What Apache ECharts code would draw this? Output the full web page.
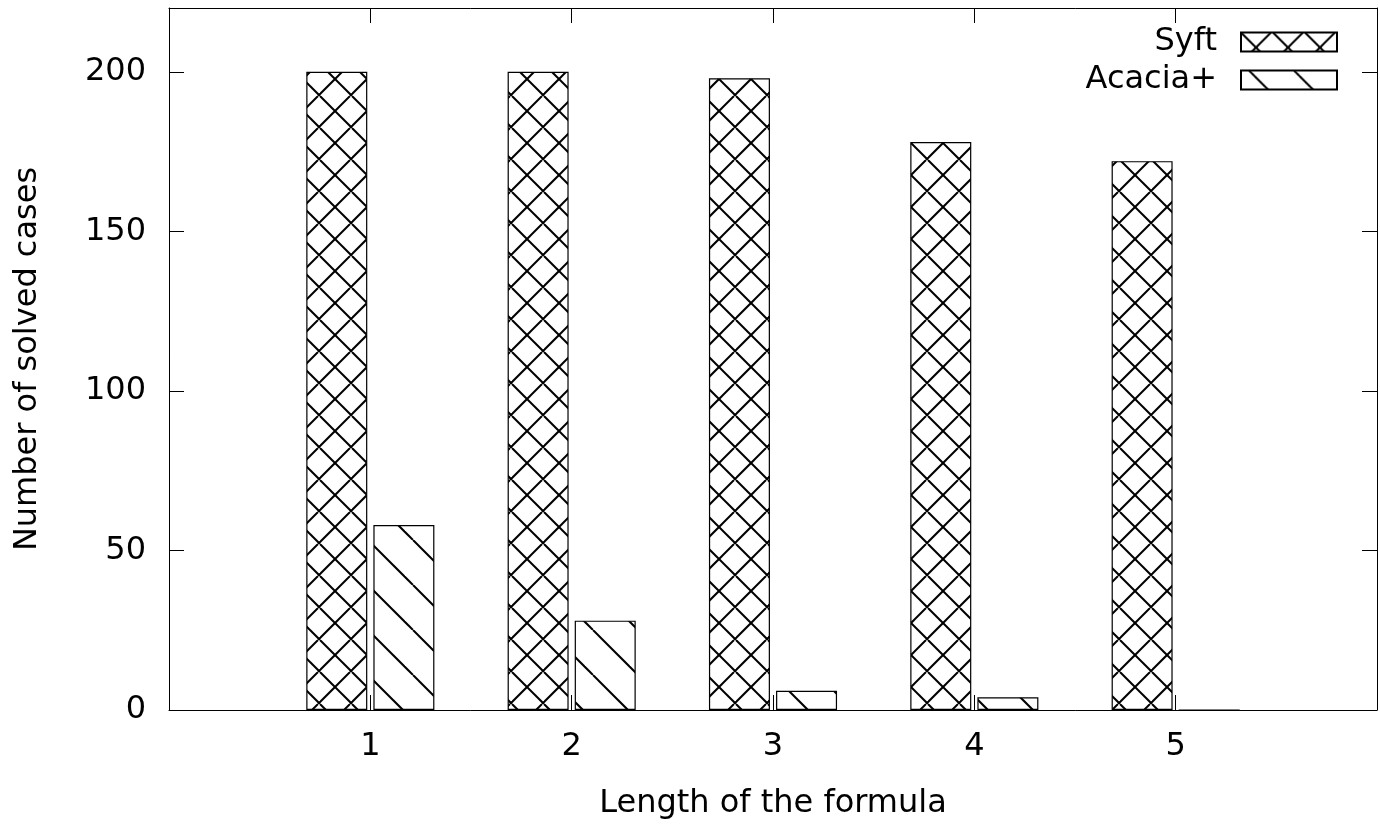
<!DOCTYPE html>
<html>
<head>
<meta charset="utf-8">
<script src="https://cdn.jsdelivr.net/npm/echarts@6/dist/echarts.min.js"></script>
<style>
html,body{margin:0;padding:0;background:#fff;}
#chart{width:1380px;height:825px;}
</style>
</head>
<body>
<div id="chart"></div>
<script>
const categories = [1, 2, 3, 4, 5];
const syft = [200, 200, 198, 178, 172];
const acacia = [58, 28, 6, 4, 0];
const yTicks = [0, 50, 100, 150, 200];
const xTickLabels = ['1', '2', '3', '4', '5'];
const seriesNames = ['Syft', 'Acacia+'];

function makeCross() {
  const P = 32;
  const c = document.createElement('canvas');
  c.width = P; c.height = P;
  const g = c.getContext('2d');
  g.fillStyle = '#fff'; g.fillRect(0, 0, P, P);
  g.strokeStyle = '#000'; g.lineWidth = 2;
  for (let k = -2; k <= 2; k++) {
    g.beginPath(); g.moveTo(k * P, 0); g.lineTo(k * P + P, P); g.stroke();
    g.beginPath(); g.moveTo(30 + k * P, 0); g.lineTo(30 + k * P - P, P); g.stroke();
  }
  return c;
}
function makeDiag() {
  const P = 45;
  const c = document.createElement('canvas');
  c.width = P; c.height = P;
  const g = c.getContext('2d');
  g.fillStyle = '#fff'; g.fillRect(0, 0, P, P);
  g.strokeStyle = '#000'; g.lineWidth = 2;
  for (let k = -2; k <= 2; k++) {
    g.beginPath(); g.moveTo(8 + k * P, 0); g.lineTo(8 + k * P + P, P); g.stroke();
  }
  return c;
}

const font = 'DejaVu Sans';
const fs = 32;
const chart = echarts.init(document.getElementById('chart'), null, {renderer: 'canvas'});

const xLabelFmt = v => { const i = categories.indexOf(v); return i >= 0 ? xTickLabels[i] : ''; };
const yLabelFmt = v => yTicks.indexOf(v) >= 0 ? String(v) : '';

const legendCommon = {
  orient: 'vertical', align: 'right', right: 37, itemWidth: 96, itemHeight: 19, icon: 'rect',
  textStyle: {fontFamily: font, fontSize: fs, color: '#000', padding: [0, 19, 0, 0]},
  selectedMode: false
};

const tickStyle = {show: true, inside: true, length: 15, lineStyle: {color: '#000', width: 1}};
const lineStyle = {show: true, onZero: false, lineStyle: {color: '#000', width: 1}};

chart.setOption({
  animation: false,
  backgroundColor: '#fff',
  grid: {left: 169, right: 2, top: 8, bottom: 113},
  legend: [
    Object.assign({}, legendCommon, {top: 21, data: [seriesNames[0]]}),
    Object.assign({}, legendCommon, {top: 59, data: [seriesNames[1]]})
  ],
  xAxis: [{
    type: 'value', min: 0, max: 6, interval: 1,
    name: 'Length of the formula', nameLocation: 'middle', nameGap: 78,
    nameTextStyle: {fontFamily: font, fontSize: fs, color: '#000'},
    axisLine: lineStyle, axisTick: tickStyle,
    axisLabel: {fontFamily: font, fontSize: fs, color: '#000', margin: 21, formatter: xLabelFmt},
    splitLine: {show: false}
  }, {
    type: 'value', min: 0, max: 6, interval: 1, position: 'top',
    axisLine: lineStyle, axisTick: tickStyle,
    axisLabel: {show: false}, splitLine: {show: false}
  }],
  yAxis: [{
    type: 'value', min: 0, max: 220, interval: 50,
    name: 'Number of solved cases', nameLocation: 'middle', nameGap: 125,
    nameTextStyle: {fontFamily: font, fontSize: fs, color: '#000'},
    axisLine: lineStyle, axisTick: tickStyle,
    axisLabel: {fontFamily: font, fontSize: fs, color: '#000', margin: 23, formatter: yLabelFmt},
    splitLine: {show: false}
  }, {
    type: 'value', min: 0, max: 220, interval: 50, position: 'right',
    axisLine: lineStyle, axisTick: tickStyle,
    axisLabel: {show: false}, splitLine: {show: false}
  }],
  series: [{
    name: seriesNames[0], type: 'bar', barWidth: 61, barGap: '10%',
    data: categories.map((c, i) => [c, syft[i]]),
    itemStyle: {color: {image: makeCross(), repeat: 'repeat'}, borderColor: '#000', borderWidth: 1.2}
  }, {
    name: seriesNames[1], type: 'bar', barWidth: 61, barGap: '10%',
    data: categories.map((c, i) => [c, acacia[i]]),
    itemStyle: {color: {image: makeDiag(), repeat: 'repeat'}, borderColor: '#000', borderWidth: 1.2}
  }]
});
</script>
</body>
</html>
